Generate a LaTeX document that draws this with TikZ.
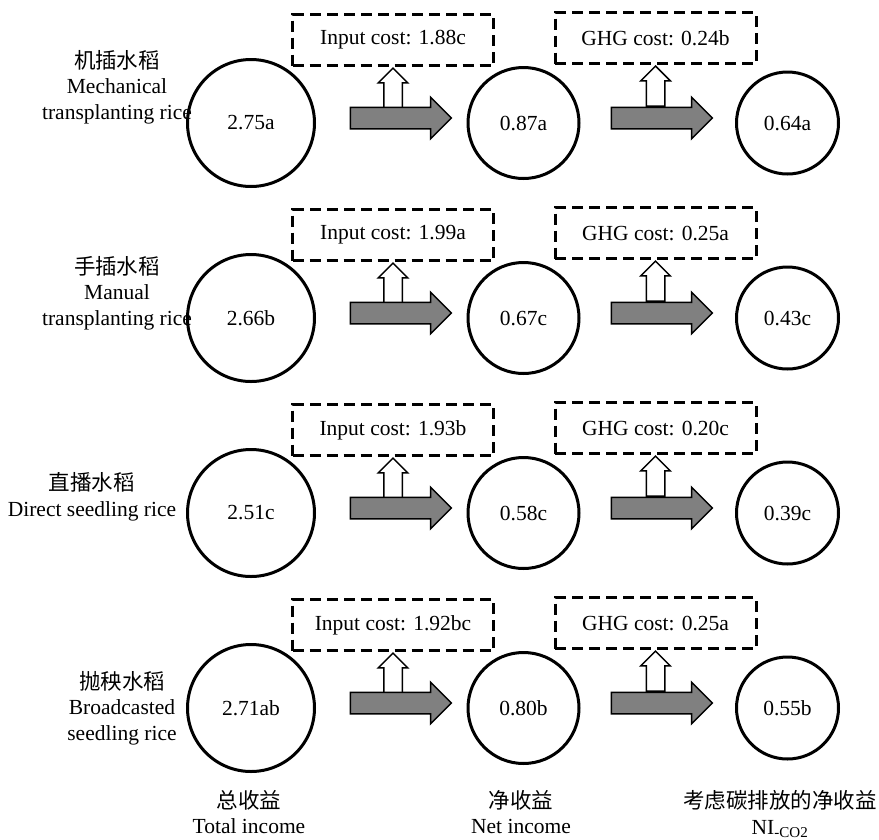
\documentclass[tikz,border=0pt]{standalone}
\usepackage{fontspec}
\setmainfont{Liberation Serif}
\newfontfamily\cjk{Noto Sans CJK SC}
\usetikzlibrary{shapes.arrows}

\begin{document}
\begin{tikzpicture}[
  x=1pt,y=-1pt,
  font=\fontsize{21.5}{25.5}\selectfont,
  income/.style={circle,draw,line width=3pt,inner sep=0pt},
  costbox/.style={draw,line width=3pt,dash pattern=on 11pt off 6pt,
    minimum width=201pt,minimum height=51pt,inner sep=0pt},
  flow/.style={single arrow,draw,line width=1.5pt,fill=gray,
    inner sep=0pt,inner ysep=10pt,single arrow head extend=10pt,minimum height=101pt},
  lift/.style={single arrow,draw,line width=1.5pt,fill=white,shape border rotate=90,
    inner sep=8.5pt,single arrow head extend=5.5pt,minimum height=40pt},
  rowlabel/.style={align=center}
]
\useasboundingbox (0,0) rectangle (879,839);

% -------------------------
% Geometry
% -------------------------
\def\xTotal{251}
\def\xNet{523.5}
\def\xNetC{787.5}
\def\xInput{393}
\def\xGhg{655.5}

% -------------------------
% Rows: income circles, cost boxes, arrows
% -------------------------
\foreach \r/\y/\vt/\vn/\vc/\ci/\cg in {
  1/123/2.75a/0.87a/0.64a/1.88c/0.24b,
  2/318/2.66b/0.67c/0.43c/1.99a/0.25a,
  3/513/2.51c/0.58c/0.39c/1.93b/0.20c,
  4/708/2.71ab/0.80b/0.55b/1.92bc/0.25a} {
  \node[income,minimum size=127pt] (ti-\r) at (\xTotal,\y) {\vt};
  \node[income,minimum size=111pt] (ni-\r) at (\xNet,\y) {\vn};
  \node[income,minimum size=102pt] (nc-\r) at (\xNetC,\y) {\vc};
  \node[costbox] (ic-\r) at (\xInput,\y-83) {Input cost: \ci};
  \node[costbox] (gc-\r) at (\xGhg,\y-85) {GHG cost: \cg};
  \node[lift,anchor=tip] (li-\r) at (ic-\r.south) {};
  \node[lift,anchor=tip] (lg-\r) at (gc-\r.south) {};
  \node[flow] (fi-\r) at (395.5,\y-5) {};
  \node[flow] (fg-\r) at (656.5,\y-5) {};
}

% -------------------------
% Row labels
% -------------------------
\node[rowlabel] (lbl-1) at (117,87) {{\cjk 机插水稻}\\Mechanical\\transplanting rice};
\node[rowlabel] (lbl-2) at (117,293) {{\cjk 手插水稻}\\Manual\\transplanting rice};
\node[rowlabel] (lbl-3) at (92,497) {{\cjk 直播水稻}\\Direct seedling rice};
\node[rowlabel] (lbl-4) at (122,708) {{\cjk 抛秧水稻}\\Broadcasted\\seedling rice};

% -------------------------
% Column labels
% -------------------------
\node[rowlabel] (col-t) at (249,812) {{\cjk 总收益}\\Total income};
\node[rowlabel] (col-n) at (521,812) {{\cjk 净收益}\\Net income};
\node[rowlabel] (col-c) at (780,814) {{\cjk 考虑碳排放的净收益}\\NI\textsubscript{-CO2}};

\end{tikzpicture}
\end{document}
